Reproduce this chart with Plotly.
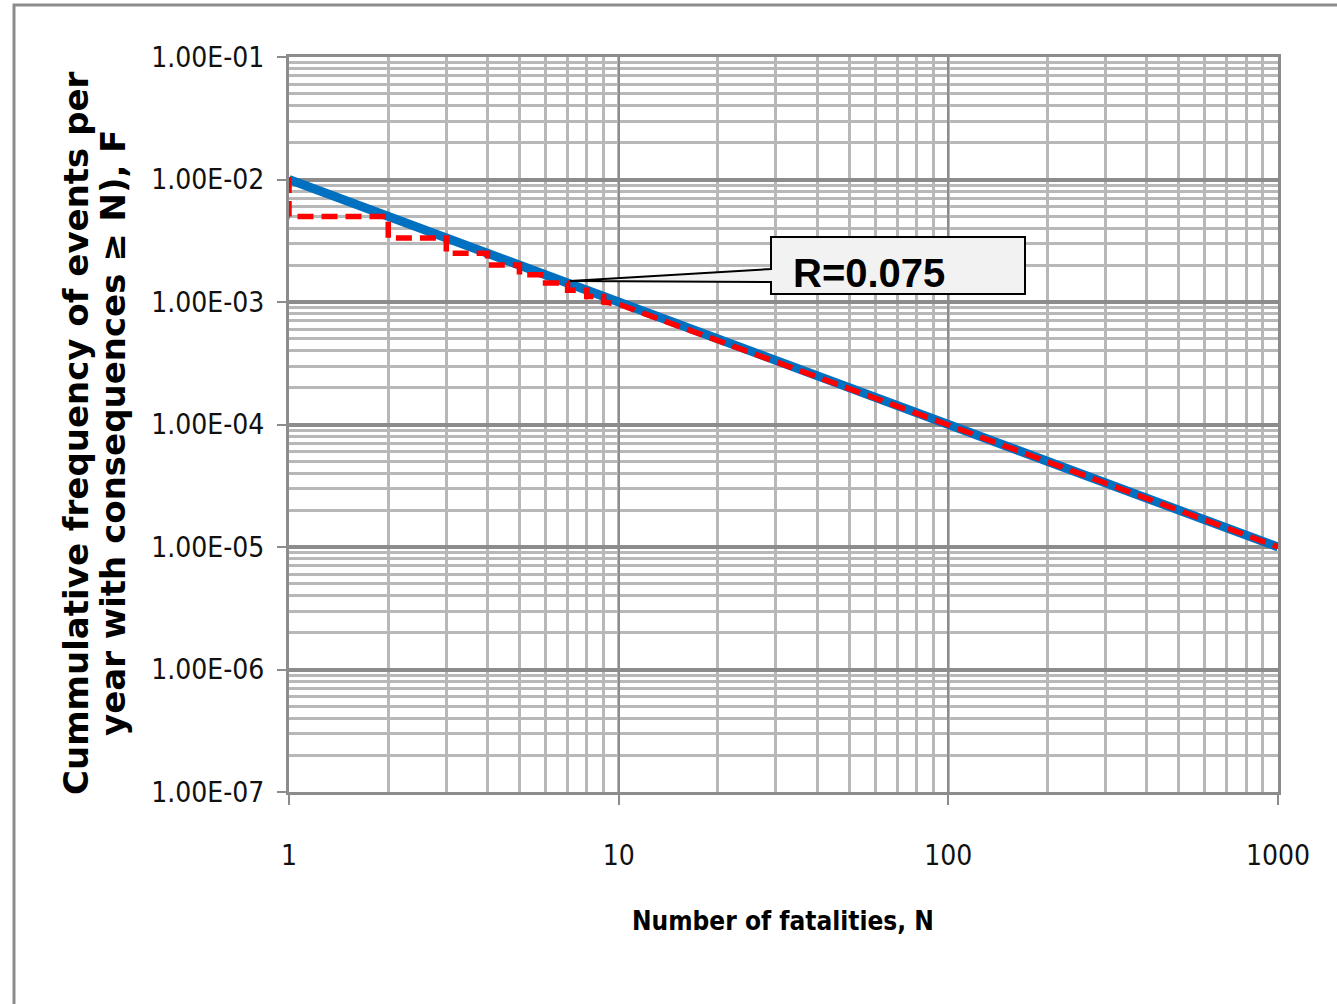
import plotly.graph_objects as go

# ---- data ----
blue_N = [1, 1000]
blue_F = [1.0e-2, 1.0e-5]

red_N = [1, 1, 2, 2, 3, 3, 4, 4, 5, 5, 6, 6, 7, 7, 8, 8, 9, 9, 10, 15, 20, 30, 50, 100, 200, 500, 1000]
red_F = [0.0105, 0.005, 0.005, 0.00333, 0.00333, 0.0025, 0.0025, 0.002, 0.002, 0.00167,
         0.00167, 0.00143, 0.00143, 0.00125, 0.00125, 0.00111, 0.00111, 0.00100, 0.00096,
         0.00064, 0.00048, 0.00032, 0.000196, 9.9e-5, 4.97e-5, 1.99e-5, 1.0e-5]

y_tickvals = [1e-1, 1e-2, 1e-3, 1e-4, 1e-5, 1e-6, 1e-7]
y_ticktext = ["1.00E-01", "1.00E-02", "1.00E-03", "1.00E-04", "1.00E-05", "1.00E-06", "1.00E-07"]
x_tickvals = [1, 10, 100, 1000]
x_ticktext = ["1", "10", "100", "1000"]

annotation_text = "R=0.075"
x_title = "Number of fatalities, N"
y_title_lines = ["Cummulative frequency of events per",
                 "year with consequences \u2265 N), F"]

# ---- layout geometry (pixels) ----
W, H = 1337, 1004
L, R, T, B = 289, 1278, 57, 792
PW, PH = R - L, B - T


def px(x):
    return (x - L) / PW


def py(y):
    return (B - y) / PH


COND = "DejaVu Sans Condensed, Liberation Sans Narrow, Arial Narrow, sans-serif"
tick_font = dict(family=COND, size=28, color="#111111")

fig = go.Figure()
fig.add_trace(go.Scatter(x=blue_N, y=blue_F, mode="lines",
                         line=dict(color="#0070C0", width=9), showlegend=False))
fig.add_trace(go.Scatter(x=red_N, y=red_F, mode="lines",
                         line=dict(color="#FF0000", width=5.5, dash="16px,8px"), showlegend=False))

fig.update_layout(
    width=W, height=H,
    margin=dict(l=L, r=W - R, t=T, b=H - B),
    paper_bgcolor="white", plot_bgcolor="white",
    showlegend=False,
)

fig.update_xaxes(
    type="log", range=[0, 3],
    tickvals=x_tickvals, ticktext=x_ticktext, tickfont=tick_font,
    ticks="outside", ticklen=10, tickwidth=2, tickcolor="#8c8c8c",
    ticklabelstandoff=26,
    showline=True, linecolor="#8c8c8c", linewidth=3, mirror=True,
    showgrid=True, gridcolor="#8c8c8c", gridwidth=2,
    minor=dict(dtick="D1", showgrid=True, gridcolor="#b8b8b8", gridwidth=2.5, ticks=""),
    zeroline=False,
)
fig.update_yaxes(
    type="log", range=[-7, -1],
    tickvals=y_tickvals, ticktext=y_ticktext, tickfont=tick_font,
    ticks="outside", ticklen=9, tickwidth=2, tickcolor="#8c8c8c",
    ticklabelstandoff=7,
    showline=True, linecolor="#8c8c8c", linewidth=3, mirror=True,
    showgrid=True, gridcolor="#8c8c8c", gridwidth=3.5,
    minor=dict(dtick="D1", showgrid=True, gridcolor="#b8b8b8", gridwidth=2.5, ticks=""),
    zeroline=False,
)

# outer chart frame (clipped by the page on right/bottom)
fig.add_shape(type="rect", xref="paper", yref="paper",
              x0=px(14), x1=px(1350), y0=py(1015), y1=py(5),
              line=dict(color="#8c8c8c", width=3), fillcolor="rgba(0,0,0,0)", layer="below")

# callout box
pts = [(771, 237), (1025, 237), (1025, 294), (771, 294), (771, 282), (570, 281), (771, 269)]
path = "M " + " L ".join(f"{px(a):.5f},{py(b):.5f}" for a, b in pts) + " Z"
fig.add_shape(type="path", xref="paper", yref="paper", path=path,
              line=dict(color="black", width=2), fillcolor="#f2f2f2", layer="above")

fig.add_annotation(xref="paper", yref="paper", x=px(869), y=py(273),
                   xanchor="center", yanchor="middle",
                   text=f"<b>{annotation_text}</b>", showarrow=False,
                   font=dict(family="Liberation Sans, Arial, sans-serif", size=40, color="black"))

fig.add_annotation(xref="paper", yref="paper", x=px(783), y=py(921),
                   xanchor="center", yanchor="middle",
                   text=f"<b>{x_title}</b>", showarrow=False,
                   font=dict(family=COND, size=26, color="black"))

for cx, line_txt in zip([76, 113], y_title_lines):
    fig.add_annotation(xref="paper", yref="paper", x=px(cx), y=py(433),
                       xanchor="center", yanchor="middle",
                       text=f"<b>{line_txt}</b>", showarrow=False, textangle=-90,
                       font=dict(family="DejaVu Sans, sans-serif", size=34, color="black"))

fig.write_html("out.html")
